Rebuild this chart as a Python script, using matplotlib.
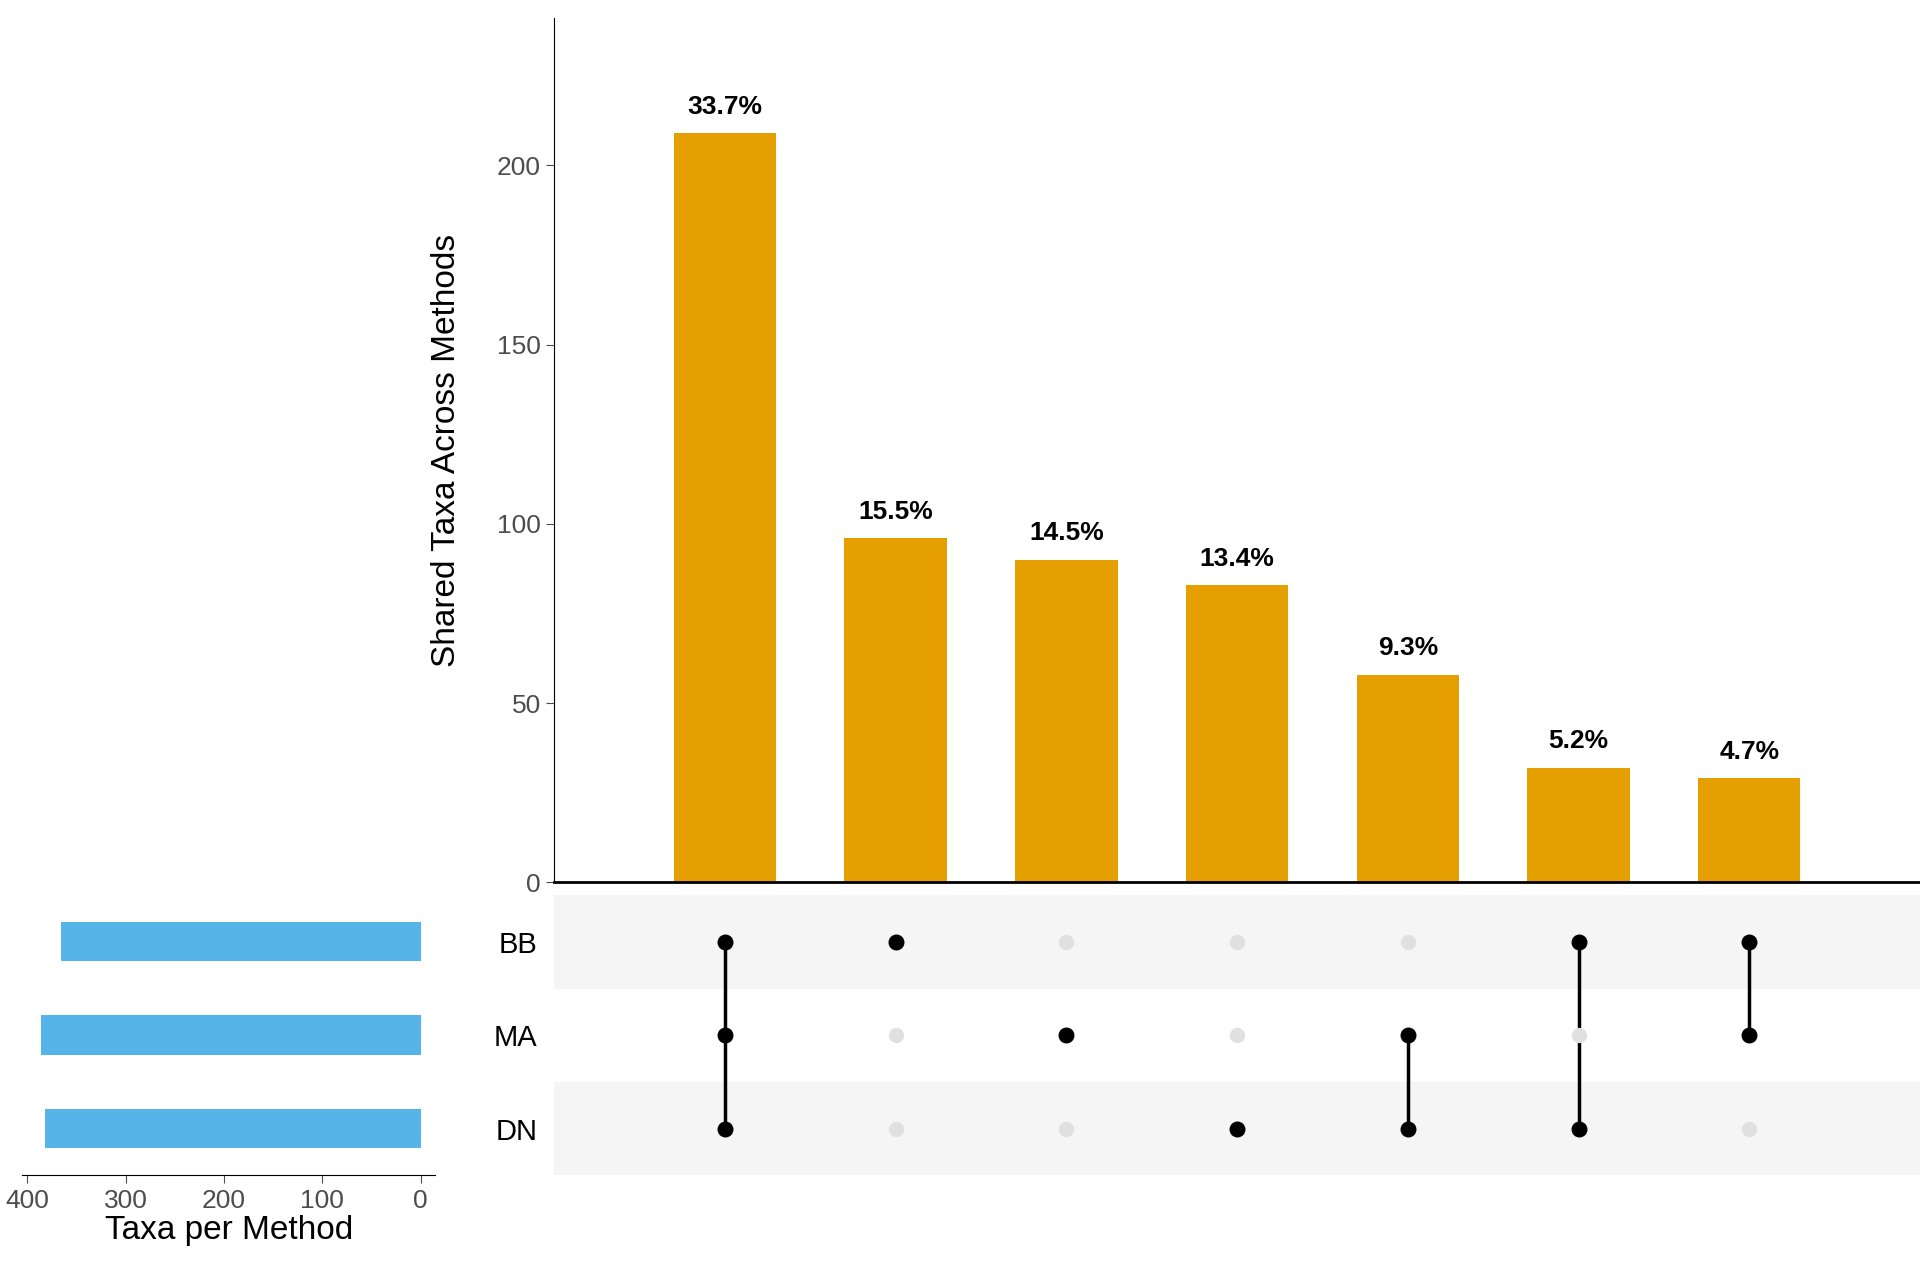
import matplotlib
matplotlib.use("Agg")
import matplotlib.pyplot as plt

sets = ["BB", "MA", "DN"]
set_sizes = [366, 386, 382]
inter_counts = [209, 96, 90, 83, 58, 32, 29]
inter_labels = ["33.7%", "15.5%", "14.5%", "13.4%", "9.3%", "5.2%", "4.7%"]
memberships = [["BB", "MA", "DN"], ["BB"], ["MA"], ["DN"], ["MA", "DN"], ["BB", "DN"], ["BB", "MA"]]

plt.rcParams['font.family'] = ['Liberation Sans', 'DejaVu Sans']
fig = plt.figure(figsize=(19.2, 12.8), dpi=100)
W, H = 1552, 1040
def ax_px(l, t, r, b):
    return fig.add_axes([l / W, 1 - b / H, (r - l) / W, (b - t) / H])

orange = "#E69F00"
blue = "#56B4E9"
xs = list(range(1, len(inter_counts) + 1))

ax = ax_px(448, 15, 1552, 717)
ax.bar(xs, inter_counts, width=0.6, color=orange)
for x, v, lab in zip(xs, inter_counts, inter_labels):
    ax.text(x, v + 4, lab, ha="center", va="bottom", fontsize=19, fontweight="bold")
ax.set_xlim(0, 8)
ax.set_ylim(0, 241)
ax.set_xticks([])
ax.set_yticks([0, 50, 100, 150, 200])
ax.tick_params(axis="y", labelsize=19, colors="#4d4d4d", length=6)
for s in ["top", "right"]:
    ax.spines[s].set_visible(False)
ax.spines["bottom"].set_linewidth(2)
ax.set_ylabel("Shared Taxa Across Methods", fontsize=24, labelpad=25)

mx = ax_px(448, 727, 1552, 955)
ys = {s: 2 - i for i, s in enumerate(sets)}
for s in sets:
    if s != "MA":
        mx.axhspan(ys[s] - 0.5, ys[s] + 0.5, color="#f5f5f5", zorder=0)
for x, mem in zip(xs, memberships):
    for s in sets:
        on = s in mem
        mx.scatter(x, ys[s], s=110 if on else 100, color="black" if on else "#e0e0e0", zorder=3)
    yy = [ys[s] for s in mem]
    if len(yy) > 1:
        mx.plot([x, x], [min(yy), max(yy)], color="black", lw=2.5, zorder=2)
mx.set_xlim(0, 8)
mx.set_ylim(-0.5, 2.5)
mx.set_xticks([])
mx.set_yticks([ys[s] for s in sets])
mx.set_yticklabels(sets, fontsize=21)
mx.tick_params(axis="y", length=0, pad=12)
for s in mx.spines.values():
    s.set_visible(False)

sx = ax_px(18, 727, 352, 955)
sx.barh([ys[s] for s in sets], set_sizes, height=0.42, color=blue)
sx.set_xlim(405, -15)
sx.set_ylim(-0.5, 2.5)
sx.set_yticks([])
sx.set_xticks([400, 300, 200, 100, 0])
sx.tick_params(axis="x", labelsize=19, colors="#4d4d4d", length=6)
for s in ["top", "right", "left"]:
    sx.spines[s].set_visible(False)
sx.set_xlabel("Taxa per Method", fontsize=24, labelpad=2)

fig.savefig("out.png", dpi=100)
